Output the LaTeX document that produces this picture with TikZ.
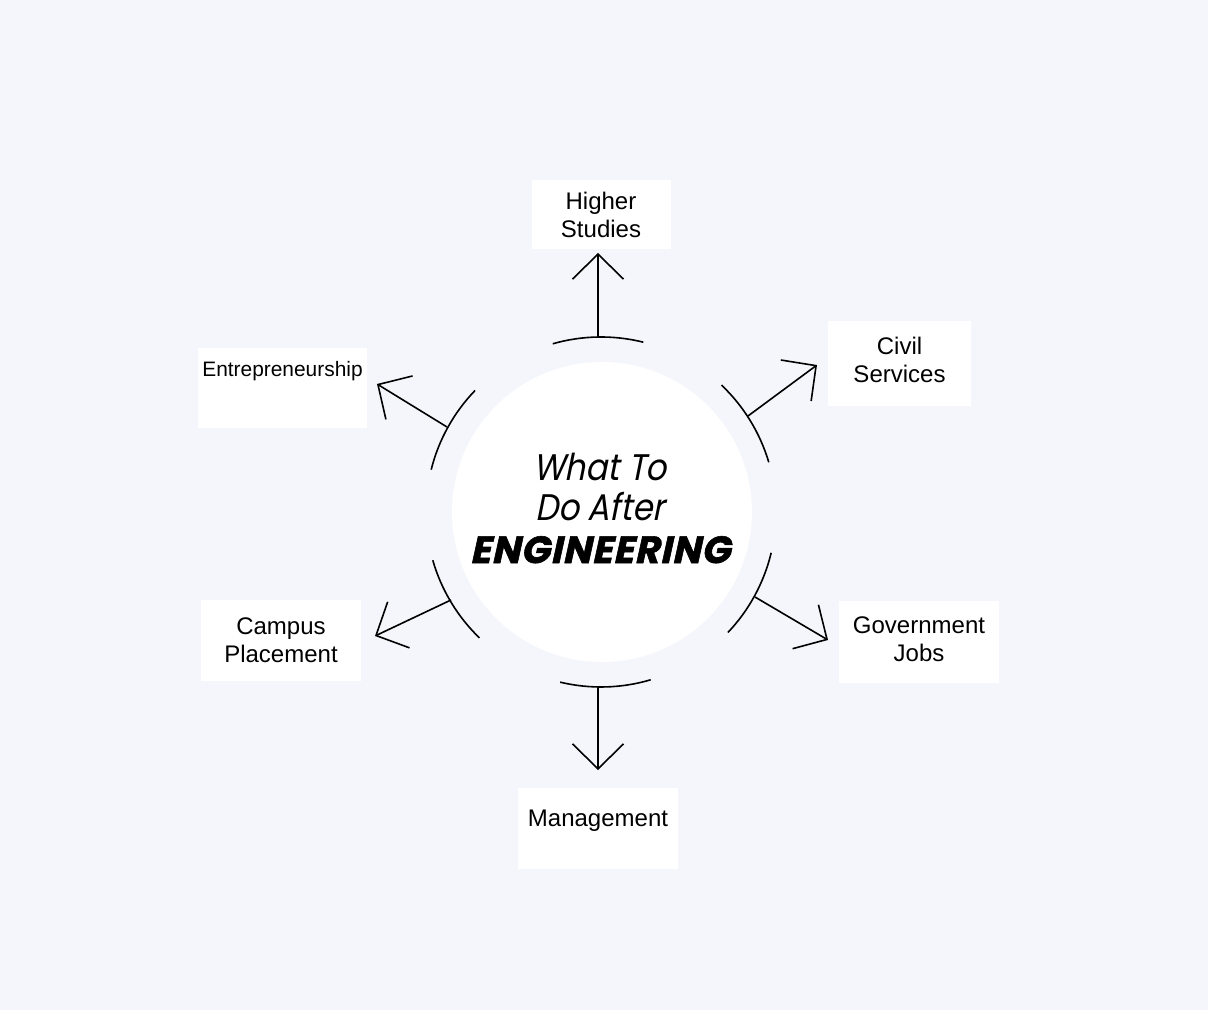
\documentclass[tikz,border=0pt]{standalone}
\usepackage{fontspec}
\setmainfont{Liberation Sans}
\newfontfamily\headfont[FakeSlant=0.2,FakeStretch=0.88]{Poppins}
\newfontfamily\headbold[FakeSlant=0.22,BoldFeatures={FakeBold=1.5},LetterSpace=2]{Poppins}
\usepackage[HTML]{xcolor}
\usetikzlibrary{positioning, arrows.meta}
\definecolor{pagebg}{HTML}{F5F6FC}

\tikzset{
  optbox/.style={fill=white, align=center, inner sep=0pt, font=\fontsize{12}{14}\selectfont},
  branch/.style={line width=0.8pt, -{Straight Barb[length=12.5pt,width=25.5pt]}},
  rim/.style={line width=0.8pt},
}

\begin{document}
\begin{tikzpicture}[x=0.5pt,y=0.5pt]
\fill[pagebg] (-601,-498) rectangle (607,512);
\useasboundingbox (-601,-498) rectangle (607,512);

% hub
\node[circle, fill=white, minimum size=150pt, inner sep=0pt] (hub) at (1,0) {};
\node[align=center, font=\headfont\fontsize{18.5}{21.5}\selectfont] (title) at (-1,4)
  {What To\\[-1.5pt]Do After\\{\headbold\bfseries\fontsize{19}{21.5}\selectfont ENGINEERING}};

% options
\node[optbox, minimum width=69.5pt, minimum height=34.5pt] (H) at (0,297.5) {Higher\\Studies};
\node[optbox, minimum width=71.5pt, minimum height=42.5pt] (C) at (298.5,148.5) {Civil\\Services\\[-10pt]\mbox{}};
\node[optbox, minimum width=84.5pt, minimum height=40pt, font=\fontsize{10.45}{14}\selectfont] (E) at (-318.5,124) {Entrepreneurship\\[5pt]\mbox{}};
\node[optbox, minimum width=80pt, minimum height=40.5pt] (P) at (-320,-128.5) {Campus\\Placement};
\node[optbox, minimum width=80pt, minimum height=41pt] (G) at (318,-130) {Government\\Jobs\\[-11pt]\mbox{}};
\node[optbox, minimum width=80pt, minimum height=40.5pt] (M) at (-3,-316.5) {Management\\[-3.5pt]\mbox{}};

% rims
\foreach \a in {91,31.5,151,211,-28.5,271.5}
  \draw[rim] (\a-15:175) arc[start angle=\a-15, end angle=\a+15, radius=175];

% arrow ends
\coordinate (sH) at (-3,174);    \coordinate (tH) at (-3,259);
\coordinate (sC) at (147,96);    \coordinate (tC) at (216,147);
\coordinate (sE) at (-154,85);   \coordinate (tE) at (-224,128);
\coordinate (sP) at (-150,-88);  \coordinate (tP) at (-226,-124);
\coordinate (sG) at (154,-85);   \coordinate (tG) at (227,-128);
\coordinate (sM) at (-3,-174);   \coordinate (tM) at (-3,-258);

% relations
\foreach \n in {H,C,E,P,G,M}
  \draw[branch] (s\n) -- (t\n);
\end{tikzpicture}
\end{document}
